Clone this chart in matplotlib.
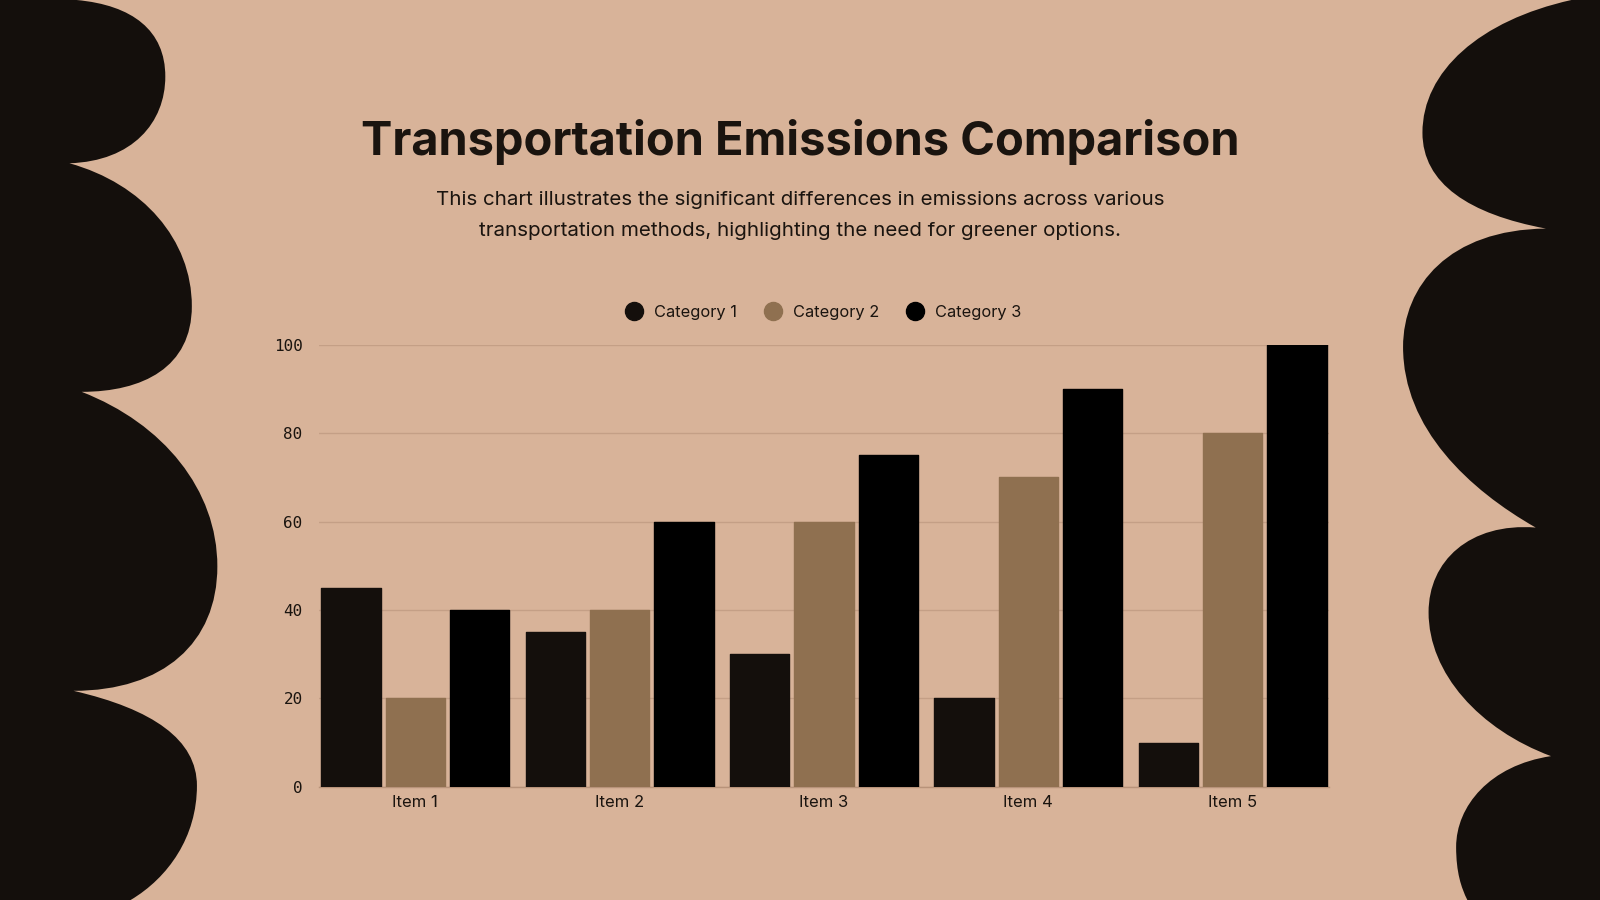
import matplotlib.pyplot as plt
import numpy as np
from matplotlib.path import Path
from matplotlib.patches import PathPatch
from matplotlib.lines import Line2D

# Data
items = ['Item 1', 'Item 2', 'Item 3', 'Item 4', 'Item 5']
categories = ['Category 1', 'Category 2', 'Category 3']
cat1 = [45, 35, 30, 20, 10]
cat2 = [20, 40, 60, 70, 80]
cat3 = [40, 60, 75, 90, 100]
y_ticks = [0, 20, 40, 60, 80, 100]

# Colors
bg = '#D8B399'
dark = '#140F0C'
colors = ['#140F0C', '#8F7050', '#000000']
grid_color = '#C49F86'

fig = plt.figure(figsize=(16, 9), dpi=100)
fig.patch.set_facecolor(bg)

# Decorative background blobs (drawn in a full-figure overlay, 1568x882 reference units)
deco = fig.add_axes([0, 0, 1, 1], zorder=0)
deco.set_xlim(0, 1568)
deco.set_ylim(882, 0)
deco.axis('off')

M, C, L, Z = Path.MOVETO, Path.CURVE4, Path.LINETO, Path.CLOSEPOLY

left_verts = [
    (0, 0), (75, 0),
    (130, 5), (162, 30), (162, 75),
    (162, 120), (130, 158), (68, 160),
    (140, 180), (188, 235), (188, 300),
    (188, 360), (140, 384), (80, 384),
    (160, 415), (213, 480), (213, 555),
    (213, 630), (160, 677), (72, 677),
    (150, 695), (193, 725), (193, 770),
    (193, 820), (165, 860), (128, 882),
    (0, 882), (0, 0),
]
left_codes = [M, L] + [C] * 24 + [L, Z]
deco.add_patch(PathPatch(Path(left_verts, left_codes), facecolor=dark, edgecolor='none'))

right_verts = [
    (1568, 0), (1540, 0),
    (1450, 20), (1394, 70), (1394, 130),
    (1394, 180), (1440, 210), (1515, 224),
    (1420, 225), (1375, 280), (1375, 340),
    (1375, 420), (1440, 480), (1505, 517),
    (1440, 512), (1400, 550), (1400, 600),
    (1400, 660), (1450, 715), (1520, 741),
    (1460, 750), (1427, 790), (1427, 830),
    (1427, 855), (1432, 870), (1438, 882),
    (1568, 882), (1568, 0),
]
right_codes = [M, L] + [C] * 24 + [L, Z]
deco.add_patch(PathPatch(Path(right_verts, right_codes), facecolor=dark, edgecolor='none'))

# Title and subtitle
fig.text(0.5, 1 - 139 / 882, 'Transportation Emissions Comparison', ha='center', va='center',
         fontsize=33.8, fontweight='bold', family=['Inter', 'DejaVu Sans'], color='#1A140F')
fig.text(0.5, 1 - 211 / 882,
         'This chart illustrates the significant differences in emissions across various\n'
         'transportation methods, highlighting the need for greener options.',
         ha='center', va='center', fontsize=14.8, linespacing=1.9,
         family=['Inter', 'DejaVu Sans'], color='#1A140F')

# Chart axes
ax = fig.add_axes([313 / 1568, 1 - 771 / 882, 989 / 1568, 433 / 882], zorder=1)
ax.set_facecolor('none')

x = np.arange(len(items))
width = 0.29
offset = 0.315
for i, (vals, col) in enumerate(zip([cat1, cat2, cat3], colors)):
    ax.bar(x + (i - 1) * offset, vals, width, color=col, edgecolor=col,
           linewidth=1.0, joinstyle='round', zorder=3)

ax.set_xlim(-0.47, 4.47)
ax.set_ylim(0, 100)
ax.set_yticks(y_ticks)
ax.set_yticklabels([str(t) for t in y_ticks], family='DejaVu Sans Mono', fontsize=11.5, color='#1A140F')
ax.set_xticks(x)
ax.set_xticklabels(items, family=['Inter', 'DejaVu Sans'], fontsize=12, color='#1A140F')
ax.tick_params(axis='both', length=0)
ax.tick_params(axis='y', pad=12)
ax.tick_params(axis='x', pad=6)
ax.grid(axis='y', color=grid_color, linewidth=1, zorder=0)
for s in ['top', 'right', 'left']:
    ax.spines[s].set_visible(False)
ax.spines['bottom'].set_color('#B8937A')
ax.spines['bottom'].set_linewidth(1)

# Legend
handles = [Line2D([0], [0], marker='o', linestyle='none', markersize=13,
                  markerfacecolor=c, markeredgecolor=c) for c in colors]
fig.legend(handles, categories, loc='center', bbox_to_anchor=(803 / 1568, 1 - 306 / 882),
           ncol=3, frameon=False, handletextpad=0.2, columnspacing=1.2,
           prop={'family': ['Inter', 'DejaVu Sans'], 'size': 11.8}, labelcolor='#1A140F')

fig.savefig('out.png', dpi=100, facecolor=bg)
